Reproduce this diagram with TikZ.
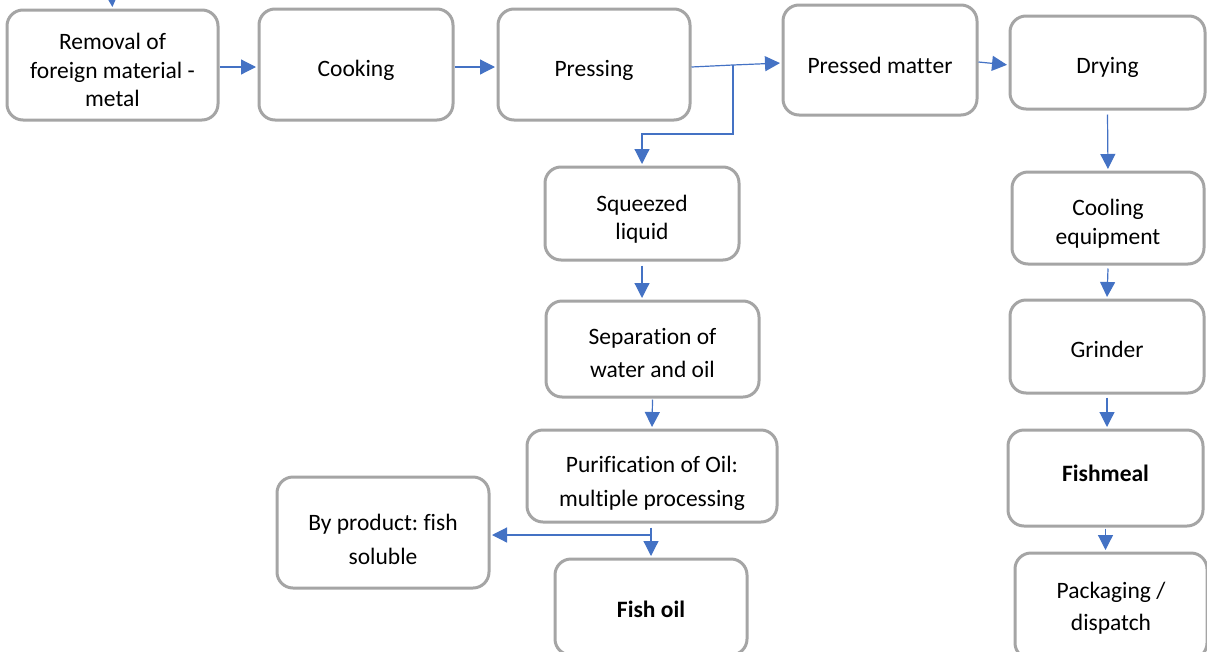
\documentclass[tikz,border=0pt]{standalone}
\usepackage{fontspec}
\setmainfont[Ligatures={NoCommon,NoContextual}]{Carlito}
\frenchspacing
\usetikzlibrary{arrows.meta,calc}
\definecolor{boxgray}{HTML}{A5A5A5}
\definecolor{arrblue}{HTML}{4472C4}
\begin{document}
\begin{tikzpicture}[x=1pt,y=-1pt,
  box/.style={draw=boxgray, line width=3pt, rounded corners=16pt, fill=white, inner sep=0pt},
  txt/.style={align=center, font=\fontsize{23.5}{28.5}\selectfont\frenchspacing, inner sep=0pt, label distance=0pt},
  arr/.style={draw=arrblue, line width=1.2pt, -{Triangle[length=15pt,width=15pt]}, shorten >=1.5pt},
]
\useasboundingbox (0,0) rectangle (1207,651);
% top row
\node[box, minimum width=211pt, minimum height=110pt,
  label={[txt,yshift=-5pt]center:{Removal of\\foreign material -\\metal}}] (rem) at (112.5,65) {};
\node[box, minimum width=194pt, minimum height=111pt,
  label={[txt,yshift=-6pt]center:{Cooking}}] (cook) at (356,64.5) {};
\node[box, minimum width=192pt, minimum height=111pt,
  label={[txt,yshift=-6pt]center:{Pressing}}] (press) at (594,64.5) {};
\node[box, minimum width=194pt, minimum height=110pt,
  label={[txt,yshift=-5pt]center:{Pressed mat\kern0pt t\kern0pt er}}] (pm) at (880,60) {};
\node[box, minimum width=195pt, minimum height=93pt,
  label={[txt,yshift=-5pt]center:{Drying}}] (dry) at (1107.5,62.5) {};
% middle column
\node[box, minimum width=194pt, minimum height=93pt,
  label={[txt,yshift=-5.5pt]center:{Squeezed\\liquid}}] (sq) at (642,213.5) {};
\node[box, minimum width=213pt, minimum height=96pt,
  label={[txt,yshift=-4pt]center:{Separat\kern0pt ion of\\[5pt]water and oil}}] (sep) at (652.5,349) {};
\node[box, minimum width=250pt, minimum height=92pt,
  label={[txt,yshift=-7.5pt]center:{Purif\kern0pt icat\kern0pt ion of Oil:\\[5pt]multiple processing}}] (pur) at (652,476) {};
\node[box, minimum width=212pt, minimum height=111pt,
  label={[txt,yshift=-7pt]center:{By product: f\kern0pt ish\\[6pt]soluble}}] (byp) at (383,532.5) {};
\node[box, minimum width=192pt, minimum height=96pt,
  label={[txt,yshift=-2pt]center:{\textbf{Fish oil}}}] (oil) at (651,607) {};
% right column
\node[box, minimum width=192pt, minimum height=92pt,
  label={[txt,yshift=-5.5pt]center:{Cooling\\equipment}}] (cool) at (1108,218) {};
\node[box, minimum width=194pt, minimum height=93pt,
  label={[txt,yshift=-3pt]center:{Grinder}}] (grind) at (1107,346.5) {};
\node[box, minimum width=195pt, minimum height=96pt,
  label={[txt,yshift=5pt]center:{\textbf{Fishmeal}}}] (meal) at (1105.5,478) {};
\node[box, minimum width=192pt, minimum height=106pt,
  label={[txt,yshift=-2pt]center:{Packaging /\\[4pt]dispatch}}] (pack) at (1111,606) {};
% connectors
\coordinate (in) at (112,0);
\draw[arr] (in) -- (rem.north);
\draw[arr] (rem.east |- 0,67) -- (cook.west |- 0,67);
\draw[arr] (cook.east |- 0,67) -- (press.west |- 0,67);
\coordinate (j) at (733,65);
\draw[arr] (press.east |- 0,67) -- (j) -- (pm.west |- 0,63);
\draw[arr] (j) -- (j |- 0,134) -| (sq.north);
\draw[arr] (pm.east |- 0,62) -- (dry.west |- 0,65);
\draw[arr] ([yshift=-4pt]dry.south) -- (cool.north);
\draw[arr] ([yshift=-4pt]sq.south) -- (sq.south |- sep.north);
\draw[arr] ([yshift=-1pt]sep.south) -- (pur.north);
\draw[arr] ([yshift=-4pt]oil.north |- pur.south) -- (oil.north);
\coordinate (b) at (651,535);
\draw[arr] (b) -- (byp.east |- b);
\draw[arr] ([yshift=-3pt]cool.south) -- (grind.north);
\draw[arr] ([yshift=-3pt]grind.south) -- (grind.south |- meal.north);
\draw[arr] ([yshift=-1pt]meal.south) -- (meal.south |- pack.north);
\end{tikzpicture}
\end{document}
